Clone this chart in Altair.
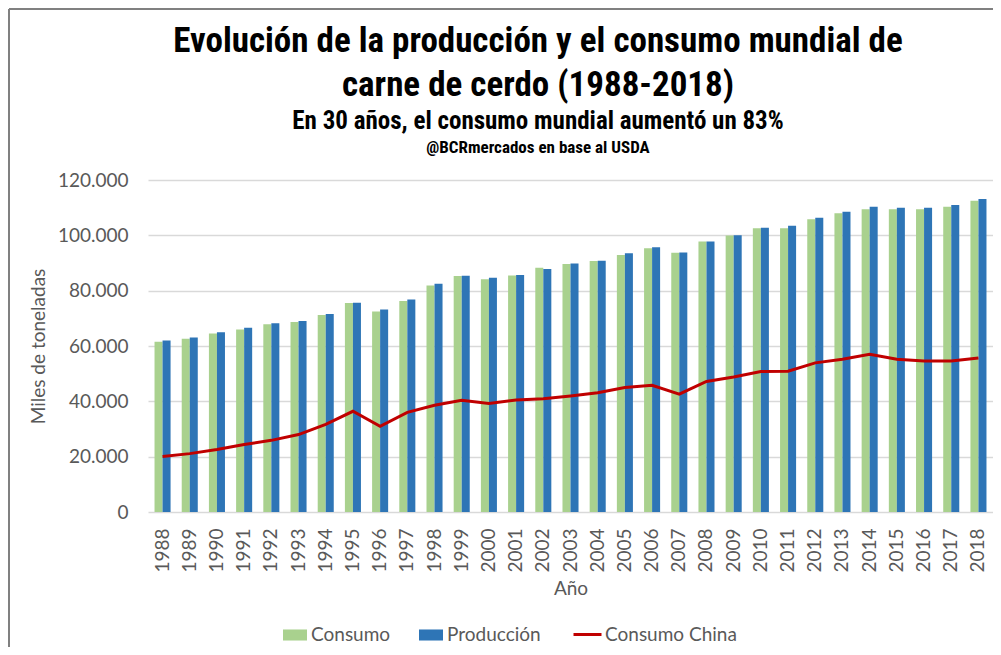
import altair as alt
import pandas as pd

# ---- data (miles de toneladas) ----
years = list(range(1988, 2019))
consumo = [61500, 62600, 64500, 66000, 67900, 68700, 71200, 75500, 72500, 76300, 81900,
           85300, 84100, 85500, 88300, 89600, 90700, 92900, 95300, 93700, 97800,
           99900, 102600, 102600, 105800, 108000, 109400, 109400, 109400, 110300, 112500]
produccion = [62000, 63100, 65000, 66600, 68200, 69000, 71600, 75600, 73200, 76800, 82500,
              85400, 84700, 85700, 87800, 89800, 90800, 93500, 95700, 93800, 97800,
              100000, 102700, 103500, 106400, 108500, 110300, 110000, 110000, 111000, 113100]
china = [20100, 21100, 22600, 24400, 25900, 28000, 31700, 36400, 31000, 36000, 38600,
         40400, 39200, 40500, 40900, 41900, 43100, 45000, 45800, 42600, 47200,
         48800, 50800, 50900, 53900, 55200, 57000, 55200, 54600, 54600, 55700]
y_ticks = [0, 20000, 40000, 60000, 80000, 100000, 120000]
bar_series = ["Consumo", "Producción"]
line_series = ["Consumo China"]
bar_colors = ["#A9D18E", "#2E75B6"]
line_colors = ["#C00000"]

title_line1 = "Evolución de la producción y el consumo mundial de"
title_line2 = "carne de cerdo (1988-2018)"
subtitle_text = "En 30 años, el consumo mundial aumentó un 83%"
source_text = "@BCRmercados en base al USDA"

bars_df = pd.DataFrame({
    "Año": years * 2,
    "Serie": [bar_series[0]] * len(years) + [bar_series[1]] * len(years),
    "Valor": consumo + produccion,
})
line_df = pd.DataFrame({"Año": years, "Serie": line_series[0], "Valor": china})

FONT = "Lato"
NARROW = "Liberation Sans Narrow, Roboto Condensed, DejaVu Sans Condensed, sans-serif"
GREY = "#595959"
FS = 19

x_enc = alt.X(
    "Año:O",
    title="Año",
    scale=alt.Scale(paddingInner=0.41, paddingOuter=0.24),
    axis=alt.Axis(labelAngle=-90, labelFont=FONT, labelFontSize=FS, labelColor=GREY,
                  labelPadding=16, domain=False, ticks=False, grid=False,
                  titleFont=FONT, titleFontSize=FS, titleColor=GREY, titleFontWeight="normal",
                  titleY=76, titleBaseline="middle"),
)
y_enc = alt.Y(
    "Valor:Q",
    title="Miles de toneladas",
    scale=alt.Scale(domain=[0, 120000], nice=False),
    axis=alt.Axis(values=y_ticks, labelExpr="replace(format(datum.value, ','), ',', '.')",
                  labelFont=FONT, labelFontSize=FS, labelColor=GREY, labelPadding=20,
                  domain=False, ticks=False, grid=True, gridColor="#D9D9D9", gridWidth=1.5,
                  titleFont=FONT, titleFontSize=FS, titleColor=GREY, titleFontWeight="normal",
                  titleX=-110, titleY=166, titleBaseline="middle", titleAlign="center"),
)

bars = alt.Chart(bars_df).mark_bar().encode(
    x=x_enc,
    xOffset=alt.XOffset("Serie:N", scale=alt.Scale(domain=bar_series)),
    y=y_enc,
    fill=alt.Fill("Serie:N", scale=alt.Scale(domain=bar_series, range=bar_colors),
                  legend=alt.Legend(title=None, orient="none", legendX=135, legendY=443,
                                    direction="horizontal",
                                    symbolType="M-1,-0.46H1V0.46H-1Z", symbolSize=576,
                                    symbolStrokeWidth=0, labelOffset=4, columnPadding=28,
                                    labelFont=FONT, labelFontSize=FS, labelColor=GREY)),
)

line = alt.Chart(line_df).mark_line(strokeWidth=3).encode(
    x=x_enc,
    y=y_enc,
    stroke=alt.Stroke("Serie:N", scale=alt.Scale(domain=line_series, range=line_colors),
                      legend=alt.Legend(title=None, orient="none", legendX=424, legendY=439,
                                        direction="horizontal", symbolType="stroke",
                                        symbolSize=784, symbolStrokeWidth=3, labelOffset=2,
                                        labelFont=FONT, labelFontSize=FS, labelColor=GREY)),
)

def text_line(txt, size, y):
    return alt.Chart(pd.DataFrame({"t": [txt]})).mark_text(
        font=NARROW, fontSize=size, fontWeight="bold", color="black",
        align="center", baseline="alphabetic"
    ).encode(text="t:N", x=alt.value(390), y=alt.value(y))

t1 = text_line(title_line1, 35, -128)
t2 = text_line(title_line2, 35, -84)
t3 = text_line(subtitle_text, 25, -51)
t4 = text_line(source_text, 17, -27)

border_df = pd.DataFrame({"k": [0]})
border_h = alt.Chart(border_df).mark_rule(color="#808080", strokeWidth=2).encode(
    x=alt.value(-139), x2=alt.value(900), y=alt.value(-171))
border_v = alt.Chart(border_df).mark_rule(color="#808080", strokeWidth=2).encode(
    x=alt.value(-139), y=alt.value(-171), y2=alt.value(480))

chart = alt.layer(bars, line, t1, t2, t3, t4, border_h, border_v).properties(
    width=845,
    height=332,
    autosize=alt.AutoSizeParams(type="none"),
    padding={"left": 140, "top": 172, "right": 0, "bottom": 135},
    background="white",
).configure_view(stroke=None)

chart.save("out.html", embed_options={"renderer": "svg", "actions": False})
